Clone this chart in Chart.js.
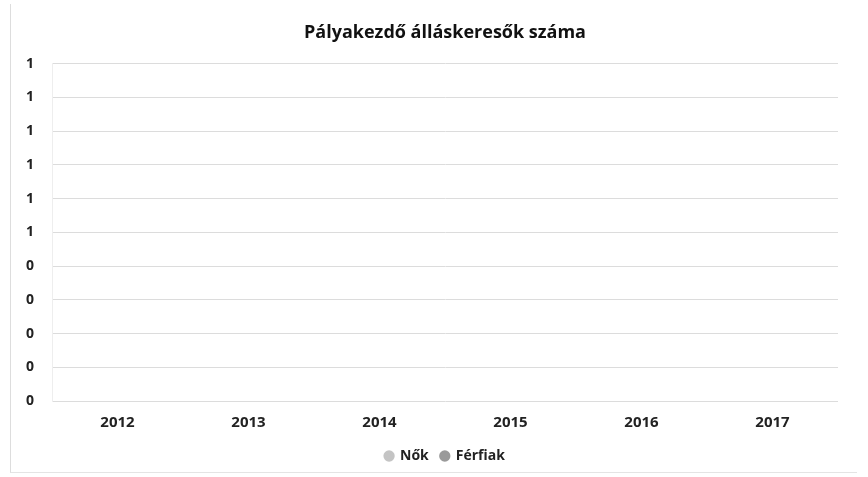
<!DOCTYPE html>
<html>
<head>
<meta charset="utf-8">
<script src="https://cdn.jsdelivr.net/npm/chart.js@4"></script>
<style>
  body { margin: 0; background: #fff; }
  #wrap { position: relative; width: 868px; height: 477px; }
  #frame { position: absolute; left: 10px; top: 4px; width: 846px; height: 468px; border-left: 1px solid #ddd; border-bottom: 1px solid #e4e4e4; pointer-events: none; }
</style>
</head>
<body>
<div id="wrap">
  <canvas id="myChart" width="868" height="477"></canvas>
  <div id="frame"></div>
</div>
<script>
// Kategóriák és sorozatok (a képen nincs látható érték)
const years = ['2012', '2013', '2014', '2015', '2016', '2017'];
const nokValues = [null, null, null, null, null, null];
const ferfiakValues = [null, null, null, null, null, null];
const yMin = 0;
const yMax = 1;
const yStep = 0.1;

document.addEventListener('DOMContentLoaded', function() {
  const ctx = document.getElementById('myChart').getContext('2d');
  const fontFamily = '"Open Sans", "DejaVu Sans", sans-serif';

  new Chart(ctx, {
    type: 'bar',
    data: {
      labels: years,
      datasets: [{
        label: 'Nők',
        data: nokValues,
        backgroundColor: '#c4c4c4',
        borderColor: '#c4c4c4'
      }, {
        label: 'Férfiak',
        data: ferfiakValues,
        backgroundColor: '#9a9a9a',
        borderColor: '#9a9a9a'
      }]
    },
    options: {
      responsive: false,
      animation: false,
      layout: {
        padding: { left: 8, right: 30, top: 6, bottom: 4 }
      },
      scales: {
        x: {
          grid: { display: false },
          border: { display: false },
          ticks: {
            color: '#222',
            padding: 5,
            font: { family: fontFamily, size: 15, weight: 'bold' }
          }
        },
        y: {
          min: yMin,
          max: yMax,
          grid: { color: '#dcdcdc', lineWidth: 1, drawTicks: false },
          border: { display: true, color: '#eeeeee' },
          ticks: {
            stepSize: yStep,
            padding: 18,
            color: '#222',
            font: { family: fontFamily, size: 14, weight: 'bold' },
            callback: function(value) {
              return Math.round(value).toString();
            }
          }
        }
      },
      plugins: {
        title: {
          display: true,
          fullSize: false,
          text: 'Pályakezdő álláskeresők száma',
          color: '#111',
          font: { family: fontFamily, size: 18, weight: 'bold' },
          padding: { top: 16, bottom: 20 }
        },
        legend: {
          position: 'bottom',
          fullSize: false,
          labels: {
            usePointStyle: true,
            pointStyle: 'circle',
            boxWidth: 8,
            boxHeight: 8,
            padding: 12,
            color: '#222',
            font: { family: fontFamily, size: 14, weight: 'bold' }
          }
        },
        tooltip: { enabled: false }
      }
    }
  });
});
</script>
</body>
</html>
